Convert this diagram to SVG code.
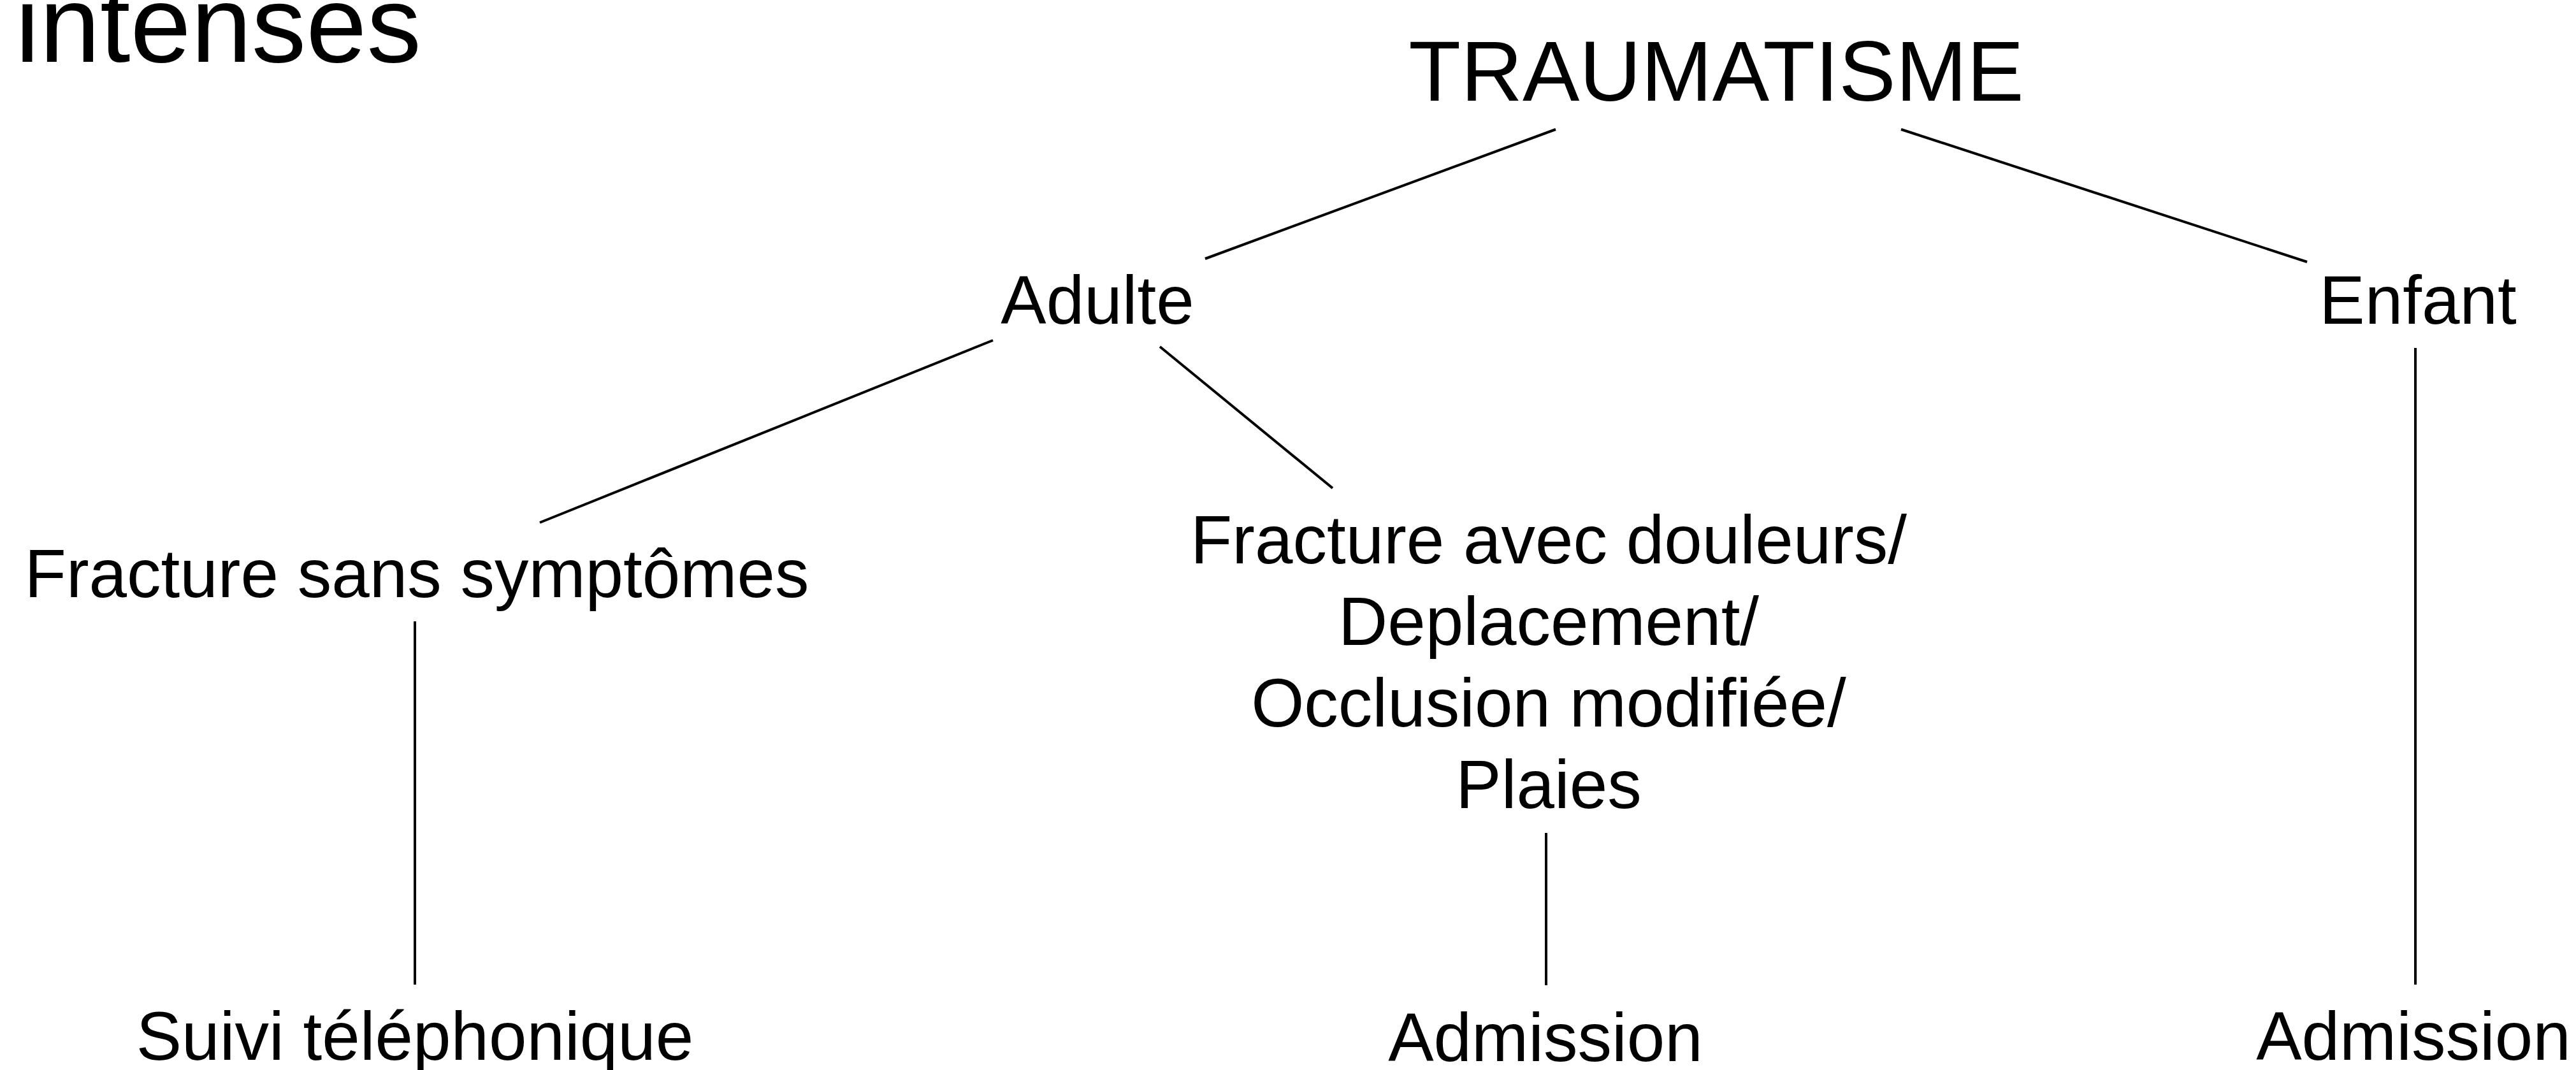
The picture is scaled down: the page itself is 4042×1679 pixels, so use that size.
<svg xmlns="http://www.w3.org/2000/svg" width="4042" height="1679" viewBox="0 0 4042 1679">
<style>
text{font-family:"Liberation Sans",Arial,Helvetica,sans-serif;fill:#000;}
.n{font-size:107px;text-anchor:middle;}
.c{stroke:#000;stroke-width:4;fill:none;}
</style>
<rect width="4042" height="1679" fill="#fff"/>
<g id="title"><text x="24" y="97" style="font-size:171px">intenses</text></g>
<g id="traumatisme"><text x="2693" y="158" style="font-size:134px;text-anchor:middle">TRAUMATISME</text></g>
<g id="adulte"><text class="n" x="1722" y="508">Adulte</text></g>
<g id="enfant"><text class="n" x="3794" y="508">Enfant</text></g>
<g id="fracture-sans"><text class="n" x="654" y="937">Fracture sans symptômes</text></g>
<g id="fracture-avec"><text class="n" x="2430" y="884">Fracture avec douleurs/</text><text class="n" x="2430" y="1012">Deplacement/</text><text class="n" x="2430" y="1140">Occlusion modifiée/</text><text class="n" x="2430" y="1268">Plaies</text></g>
<g id="suivi"><text class="n" x="651" y="1663">Suivi téléphonique</text></g>
<g id="admission-adulte"><text class="n" x="2425" y="1665">Admission</text></g>
<g id="admission-enfant"><text class="n" x="3787" y="1663">Admission</text></g>
<g id="connectors" class="c">
<line x1="2441" y1="203" x2="1891" y2="406"/>
<line x1="2983" y1="203" x2="3620" y2="411"/>
<line x1="1558" y1="534" x2="847" y2="820"/>
<line x1="1820" y1="544" x2="2091" y2="766"/>
<line x1="651" y1="975" x2="651" y2="1545"/>
<line x1="2426" y1="1307" x2="2426" y2="1546"/>
<line x1="3790" y1="546" x2="3790" y2="1545"/>
</g>
</svg>
